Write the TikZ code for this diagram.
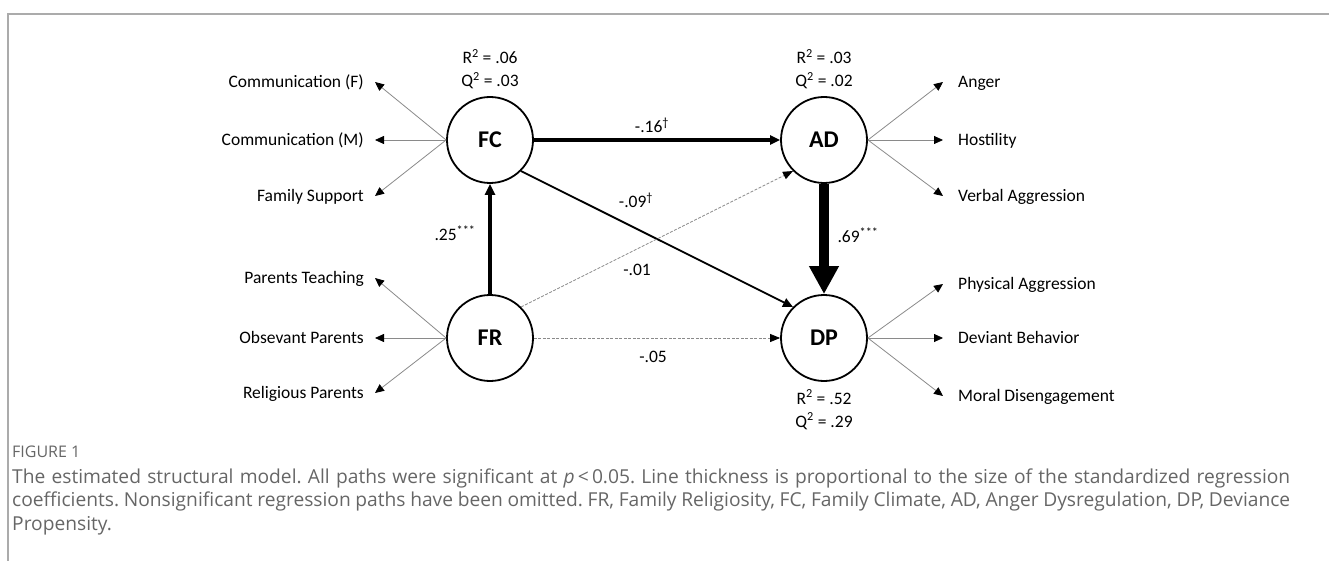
\documentclass[tikz,border=0pt]{standalone}
\usepackage{fontspec}
\setmainfont{Carlito}
\newfontfamily\captionfont{Open Sans}
\usepackage{xcolor}
\usepackage{tikz}
\usetikzlibrary{arrows.meta,positioning}
\definecolor{framegray}{HTML}{ABABAB}
\definecolor{loadgray}{HTML}{8A8A8A}
\definecolor{captiongray}{HTML}{666666}

\begin{document}
\begin{tikzpicture}[
  x=1pt, y=-1pt,
  every node/.style={font=\fontsize{17.5}{21}\selectfont, inner sep=0pt},
  latent/.style={circle, draw, line width=1.8pt, minimum size=86pt, font=\fontsize{24}{28}\selectfont\bfseries},
  stat/.style={anchor=base},
  coef/.style={anchor=base},
  indl/.style={anchor=east, inner xsep=11pt, text height=13pt, text depth=2pt},
  indr/.style={anchor=west, inner xsep=15pt, text height=13pt, text depth=2pt},
  load/.style={-{Triangle[length=9pt, width=8pt, color=black]}, loadgray, line width=0.8pt},
  strong/.style={-{Triangle[length=10pt, width=9pt]}, line width=#1},
  weak/.style={-{Triangle[length=10pt, width=8pt, color=black]}, loadgray, line width=0.8pt, dash pattern=on 3pt off 1.5pt},
  capt/.style={anchor=base west, text=captiongray, font=\captionfont\fontsize{19.2}{23.5}\selectfont\frenchspacing}
]
  \useasboundingbox (0,0) rectangle (1329,561);
  \draw[framegray, line width=1.8pt] (8,561) -- (8,14) -- (1329,14);

  \node[latent] (fc) at (490,140) {FC};
  \node[latent] (ad) at (824,140) {AD};
  \node[latent] (fr) at (490,338) {FR};
  \node[latent] (dp) at (824,338) {DP};

  \node[stat] (fcr) at (490,64) {R\textsuperscript{2} = .06};
  \node[stat] (fcq) at (490,87) {Q\textsuperscript{2} = .03};
  \node[stat] (adr) at (824,64) {R\textsuperscript{2} = .03};
  \node[stat] (adq) at (824,87) {Q\textsuperscript{2} = .02};
  \node[stat] (dpr) at (824,404) {R\textsuperscript{2} = .52};
  \node[stat] (dpq) at (824,427) {Q\textsuperscript{2} = .29};

  \node[indl] (comf) at (375,82) {Communication (F)};
  \node[indl] (comm) at (375,140) {Communication (M)};
  \node[indl] (famsup) at (375,196) {Family Support};
  \node[indl] (partch) at (375,278) {Parents Teaching};
  \node[indl] (obspar) at (375,338) {Obsevant Parents};
  \node[indl] (relpar) at (375,393) {Religious Parents};
  \node[indr] (anger) at (943,82) {Anger};
  \node[indr] (host) at (943,140) {Hostility};
  \node[indr] (verbal) at (943,196) {Verbal Aggression};
  \node[indr] (phys) at (943,284) {Physical Aggression};
  \node[indr] (deviant) at (943,338) {Deviant Behavior};
  \node[indr] (moral) at (943,396) {Moral Disengagement};

  \draw[load] (fc.west) -- (comf.east);
  \draw[load] (fc.west) -- (comm.east);
  \draw[load] (fc.west) -- (famsup.east);
  \draw[load] (fr.west) -- (partch.east);
  \draw[load] (fr.west) -- (obspar.east);
  \draw[load] (fr.west) -- (relpar.east);
  \draw[load] (ad.east) -- (anger.west);
  \draw[load] (ad.east) -- (host.west);
  \draw[load] (ad.east) -- (verbal.west);
  \draw[load] (dp.east) -- (phys.west);
  \draw[load] (dp.east) -- (deviant.west);
  \draw[load] (dp.east) -- (moral.west);

  \draw[strong=3.8pt] (fc) -- (ad);
  \draw[strong=1.8pt] (fc.-45) -- (dp.135);
  \draw[strong=3.8pt, -{Triangle[length=11pt, width=10pt]}] (fr) -- (fc);
  \draw[line width=10pt, -{Triangle[length=28pt, width=28pt]}] (ad) -- (dp);
  \draw[weak] (fr.45) -- (ad.-135);
  \draw[weak] (fr) -- (dp);

  \node[coef] (c16) at (652,132.5) {-.16\textsuperscript{\textdagger}};
  \node[coef] (c09) at (636,207.5) {-.09\textsuperscript{\textdagger}};
  \node[coef] (c01) at (637,275.5) {-.01};
  \node[coef] (c05) at (653,362.5) {-.05};
  \node[coef] (c25) at (455,240.5) {.25\textsuperscript{***}};
  \node[coef] (c69) at (858,242.5) {.69\textsuperscript{***}};

  \node[capt, font=\captionfont\fontsize{16}{18}\selectfont] (fig) at (12,457.5) {FIGURE 1};
  \node[capt] (cap1) at (12,483) {\hbox to 1278pt{The estimated structural model. All paths were significant at \textit{p}\,<\,0.05. Line thickness is proportional to the size of the standardized regression}};
  \node[capt] (cap2) at (12,506.5) {\hbox to 1278pt{coefficients. Nonsignificant regression paths have been omitted. FR, Family Religiosity, FC, Family Climate, AD, Anger Dysregulation, DP, Deviance}};
  \node[capt] (cap3) at (12,530) {Propensity.};
\end{tikzpicture}
\end{document}
